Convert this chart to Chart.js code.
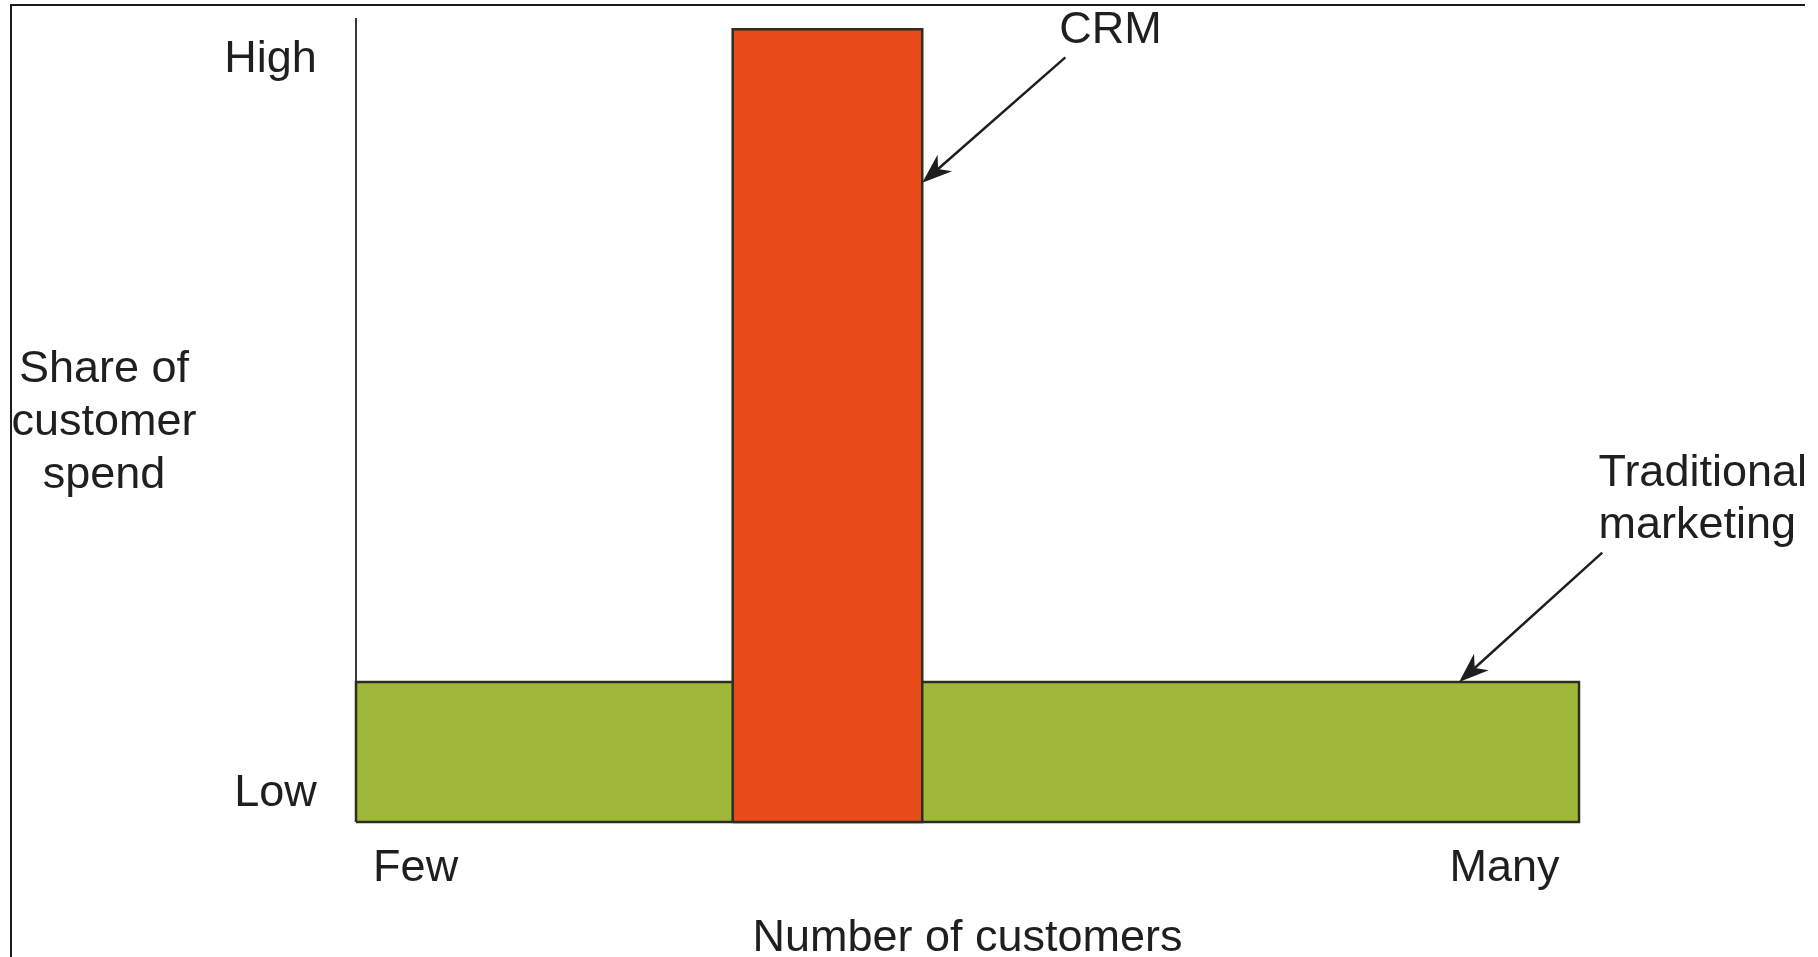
<!DOCTYPE html>
<html>
<head>
<meta charset="utf-8">
<title>Share of customer spend</title>
<script src="https://cdn.jsdelivr.net/npm/chart.js@4.4.1/dist/chart.umd.min.js"></script>
<style>
  html, body { margin: 0; padding: 0; background: #fff; }
  #wrap { position: relative; width: 1818px; height: 957px; }
  #frame {
    position: absolute; left: 10px; top: 4px; width: 1793px; height: 953px;
    border-top: 2px solid #1a1a1a; border-left: 2px solid #1a1a1a;
    pointer-events: none;
  }
</style>
</head>
<body>
<div id="wrap">
  <canvas id="spendChart"></canvas>
  <div id="frame"></div>
</div>
<script>
// approaches (x: number of customers 0-100, y: share of spend 0-100)
const barNames = ["CRM", "Traditional marketing"];
const barStart = [30.8, 0];
const barEnd = [46.3, 100];
const barShare = [98.6, 17.4];
const barColors = ["#E64B19", "#9FB83A"];

const yTickLabels = ["Low", "High"];
const xTickLabels = ["Few", "Many"];
const xTitle = "Number of customers";
const yTitle = ["Share of", "customer", "spend"];

const TEXT_FONT = '45px "Liberation Sans", Arial, sans-serif';
const TEXT_COLOR = "#1f1f1f";

// each bar is a closed outline down to zero
function outline(i) {
    return [
        { x: barStart[i], y: 0 },
        { x: barStart[i], y: barShare[i] },
        { x: barEnd[i], y: barShare[i] },
        { x: barEnd[i], y: 0 },
        { x: barStart[i], y: 0 }
    ];
}

function drawArrow(ctx, x0, y0, x1, y1) {
    let ang = Math.atan2(y1 - y0, x1 - x0);
    let ux = Math.cos(ang), uy = Math.sin(ang);
    let len = 30, half = 11;
    let nx = x1 - ux * len * 0.7, ny = y1 - uy * len * 0.7;

    ctx.beginPath();
    ctx.moveTo(x0, y0);
    ctx.lineTo(nx, ny);
    ctx.stroke();

    ctx.beginPath();
    ctx.moveTo(x1, y1);
    ctx.lineTo(x1 - ux * len - uy * half, y1 - uy * len + ux * half);
    ctx.lineTo(nx, ny);
    ctx.lineTo(x1 - ux * len + uy * half, y1 - uy * len - ux * half);
    ctx.closePath();
    ctx.fill();
}

// fills each outline with its colour just before the line is stroked
const barFill = {
    id: "barFill",
    beforeDatasetDraw(chart, args) {
        const pts = args.meta.data;
        if (!pts.length) return;
        const c = chart.ctx;
        c.save();
        c.fillStyle = chart.data.datasets[args.index].backgroundColor;
        c.beginPath();
        c.moveTo(pts[0].x, pts[0].y);
        for (let k = 1; k < pts.length; k++) c.lineTo(pts[k].x, pts[k].y);
        c.closePath();
        c.fill();
        c.restore();
    }
};

const diagramText = {
    id: "diagramText",
    beforeDatasetsDraw(chart) {
        const { ctx, scales: { x, y } } = chart;
        ctx.save();
        ctx.strokeStyle = "#3a3a3a";
        ctx.lineWidth = 2;
        ctx.beginPath();
        ctx.moveTo(x.getPixelForValue(0), y.getPixelForValue(100));
        ctx.lineTo(x.getPixelForValue(0), y.getPixelForValue(0));
        ctx.stroke();
        ctx.restore();
    },
    afterDatasetsDraw(chart) {
        const { ctx, scales: { x, y } } = chart;
        const px = v => x.getPixelForValue(v);
        const py = v => y.getPixelForValue(v);

        ctx.save();
        ctx.font = TEXT_FONT;
        ctx.fillStyle = TEXT_COLOR;
        ctx.textBaseline = "alphabetic";

        // end labels on both axes
        ctx.textAlign = "right";
        ctx.fillText(yTickLabels[0], px(-3.2), py(2.0));
        ctx.fillText(yTickLabels[1], px(-3.2), py(93.3));
        ctx.textAlign = "left";
        ctx.fillText(xTickLabels[0], px(1.4), py(-7.3));
        ctx.textAlign = "right";
        ctx.fillText(xTickLabels[1], px(98.4), py(-7.3));

        // axis titles
        ctx.textAlign = "center";
        ctx.fillText(xTitle, px(50), py(-16.0));
        let ys = [54.7, 48.1, 41.5];
        yTitle.forEach((line, i) => ctx.fillText(line, px(-20.6), py(ys[i])));

        // callouts
        ctx.fillText(barNames[0], px(61.7), py(96.9));
        ctx.textAlign = "left";
        ctx.fillText("Traditional", px(101.6), py(41.8));
        ctx.fillText("marketing", px(101.6), py(35.3));

        ctx.strokeStyle = "#1e1e1e";
        ctx.fillStyle = "#1e1e1e";
        ctx.lineWidth = 2.5;
        drawArrow(ctx, px(58.0), py(95.1), px(barEnd[0]), py(79.5));
        drawArrow(ctx, px(101.9), py(33.5), px(90.2), py(barShare[1]));
        ctx.restore();
    }
};

let ctx = document.getElementById("spendChart").getContext("2d");

window.spendChart = new Chart(ctx, {
    type: "line",
    data: {
        datasets: barNames.map((name, i) => ({
            label: name,
            data: outline(i),
            fill: false,
            tension: 0,
            pointRadius: 0,
            borderColor: "#2e2d22",
            borderWidth: 2.5,
            backgroundColor: barColors[i],
            clip: false,
            order: i
        }))
    },
    options: {
        responsive: true,
        maintainAspectRatio: false,
        animation: false,
        layout: {
            padding: { left: 356, top: 18, right: 239, bottom: 135 }
        },
        plugins: {
            legend: { display: false },
            tooltip: { enabled: false }
        },
        scales: {
            x: { type: "linear", min: 0, max: 100, display: false },
            y: { type: "linear", min: 0, max: 100, display: false }
        }
    },
    plugins: [barFill, diagramText]
});
</script>
</body>
</html>
